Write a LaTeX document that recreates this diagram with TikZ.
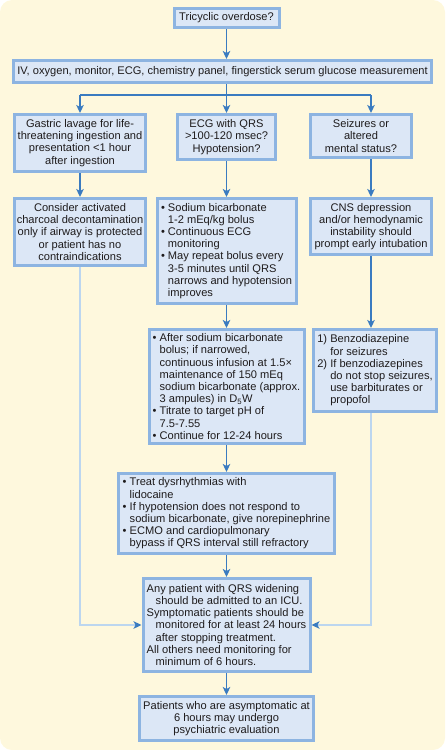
\documentclass[tikz,border=0pt]{standalone}
\usepackage{fontspec}
\setmainfont{Liberation Sans}
\usepackage{xcolor}
\usetikzlibrary{arrows.meta,positioning,calc}

\definecolor{bgcream}{HTML}{FEF8DD}
\definecolor{boxfill}{HTML}{DCE7F6}
\definecolor{boxedge}{HTML}{8DB4E1}
\definecolor{arrowblue}{HTML}{3A7BC0}
\definecolor{lightline}{HTML}{BCD6EF}
\definecolor{textcol}{HTML}{1E1B1C}

\newcommand{\bul}{\textbullet\ }
\newcommand{\ind}{\hphantom{\textbullet\ }}
\newcommand{\hang}{\rule{9pt}{0pt}}

\begin{document}
\begin{tikzpicture}[
    x=1pt, y=-1pt,
    every node/.style={font=\fontsize{11.1}{12.2}\selectfont, text=textcol},
    box/.style={rectangle, draw=boxedge, fill=boxfill, line width=3pt, inner sep=2pt},
    cbox/.style={box, align=center},
    lbox/.style={box, align=left},
    arr/.style={draw=arrowblue, line width=1.4pt, -{Stealth[length=8pt,width=7.5pt,inset=2pt]}},
    longline/.style={draw=lightline, line width=1.4pt, -{Stealth[length=8pt,width=7.5pt,inset=2pt,color=arrowblue]}},
]
    \useasboundingbox (0,0) rectangle (445,750);
    \fill[bgcream, rounded corners=12pt] (0,0) rectangle (445,750);

    % top
    \node[cbox, minimum width=105pt, minimum height=19pt] (rTop) at (226.5,18) {Tricyclic overdose?};
    \node[cbox, minimum width=418pt, minimum height=22pt] (rIV) at (222.5,71.5)
        {IV, oxygen, monitor, ECG, chemistry panel, fingerstick serum glucose measurement};

    % branch points
    \coordinate (brL) at (80,95);
    \coordinate (brM) at (226.5,95);
    \coordinate (brR) at (371,95);

    % first row
    \node[cbox, minimum width=131pt, minimum height=57pt] (rA) at (80,143)
        {Gastric lavage for life-\\threatening ingestion and\\presentation <1 hour\\after ingestion};
    \node[cbox, minimum width=98pt, minimum height=45pt] (rB) at (226.5,137)
        {ECG with QRS\\>100-120 msec?\\Hypotension?};
    \node[cbox, minimum width=101pt, minimum height=43pt] (rC) at (361,136)
        {Seizures or\\altered\\mental status?};

    % second row
    \node[cbox, minimum width=131pt, minimum height=67pt] (rA2) at (80,232)
        {Consider activated\\charcoal decontamination\\only if airway is protected\\or patient has no\\contraindications};
    \node[lbox, minimum width=139pt, minimum height=105pt] (rB2) at (226.5,251)
        {\bul Sodium bicarbonate\\\ind 1-2 mEq/kg bolus\\\bul Continuous ECG\\\ind monitoring\\\bul May repeat bolus every\\\ind 3-5 minutes until QRS\\\ind narrows and hypotension\\\ind improves};
    \node[cbox, minimum width=121pt, minimum height=56pt] (rC2) at (371,226.5)
        {CNS depression\\and/or hemodynamic\\instability should\\prompt early intubation};

    % third row
    \node[lbox, minimum width=155pt, minimum height=114pt] (rB3) at (226.5,386.5)
        {\bul After sodium bicarbonate\\\ind bolus; if narrowed,\\\ind continuous infusion at 1.5×\\\ind maintenance of 150 mEq\\\ind sodium bicarbonate (approx.\\\ind 3 ampules) in D\textsubscript{5}W\\\bul Titrate to target pH of\\\ind 7.5-7.55\\\bul Continue for 12-24 hours};
    \node[lbox, minimum width=123pt, minimum height=82pt] (rC3) at (375,370.5)
        {1) Benzodiazepine\\\hphantom{2) }for seizures\\2) If benzodiazepines\\\hphantom{2) }do not stop seizures,\\\hphantom{2) }use barbiturates or\\\hphantom{2) }propofol};

    % lower column
    \node[lbox, minimum width=216pt, minimum height=80pt] (rB4) at (226.5,513.5)
        {\bul Treat dysrhythmias with\\\ind lidocaine\\\bul If hypotension does not respond to\\\ind sodium bicarbonate, give norepinephrine\\\bul ECMO and cardiopulmonary\\\ind bypass if QRS interval still refractory};
    \node[lbox, minimum width=167pt, minimum height=93pt] (rB5) at (226.5,625)
        {Any patient with QRS widening\\\hang should be admitted to an ICU.\\Symptomatic patients should be\\\hang monitored for at least 24 hours\\\hang after stopping treatment.\\All others need monitoring for\\\hang minimum of 6 hours.};
    \node[cbox, minimum width=174pt, minimum height=44pt] (rB6) at (226.5,718.5)
        {Patients who are asymptomatic at\\6 hours may undergo\\psychiatric evaluation};

    % connectors
    \draw[arr] (rTop.south) -- (rTop.south |- rIV.north);
    \draw[draw=arrowblue, line width=1.4pt] (brL) -- (brR);
    \draw[arr] (rIV.south -| brM) -- (brM |- rB.north);
    \draw[arr] (brL) -- (brL |- rA.north);
    \draw[arr] (brR) -- (brR |- rC.north);

    \draw[arr] (rA.south -| brL) -- (brL |- rA2.north);
    \draw[arr] (rB.south -| brM) -- (brM |- rB2.north);
    \draw[arr] (rC.south -| brR) -- (brR |- rC2.north);

    \draw[arr] (rB2.south -| brM) -- (brM |- rB3.north);
    \draw[arr] (rC2.south -| brR) -- (brR |- rC3.north);
    \draw[arr] (rB3.south -| brM) -- (brM |- rB4.north);
    \draw[arr] (rB4.south -| brM) -- (brM |- rB5.north);
    \draw[arr] (rB5.south -| brM) -- (brM |- rB6.north);

    \draw[longline] (rA2.south -| brL) |- (rB5.west);
    \draw[longline] (rC3.south -| brR) |- (rB5.east);
\end{tikzpicture}
\end{document}
